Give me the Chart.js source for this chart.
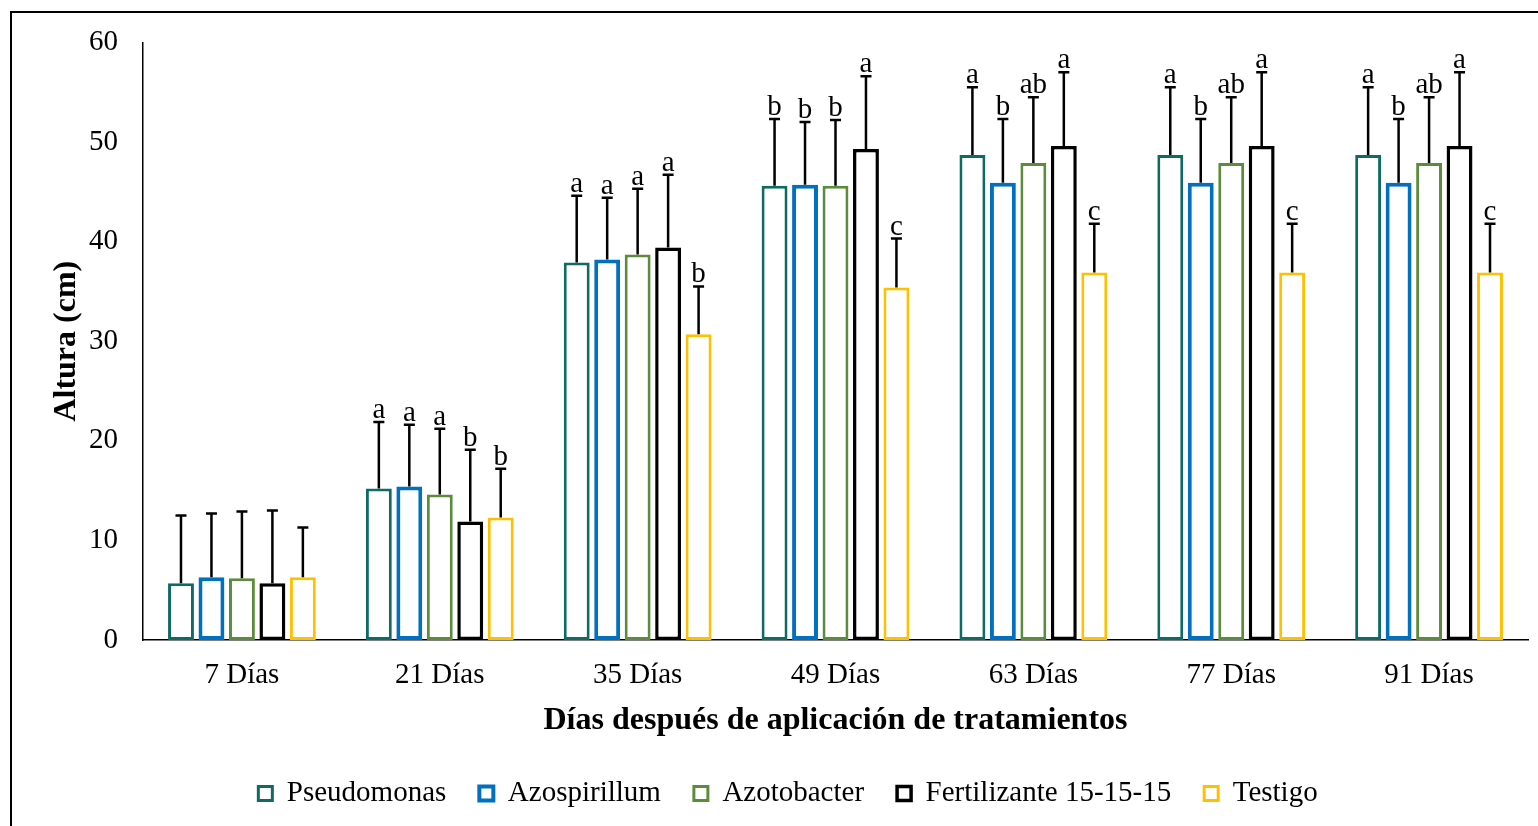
<!DOCTYPE html>
<html>
<head>
<meta charset="utf-8">
<script src="https://cdn.jsdelivr.net/npm/chart.js@4.4.1/dist/chart.umd.min.js"></script>
<style>
  html, body { margin: 0; padding: 0; background: #fff; }
  #wrap { width: 1538px; height: 826px; position: relative; }
</style>
</head>
<body>
<div id="wrap"><canvas id="c" width="1538" height="826"></canvas></div>
<script>
// Plant height (cm) by treatment and sampling day
const categories = ['7 Días', '21 Días', '35 Días', '49 Días', '63 Días', '77 Días', '91 Días'];
const seriesNames = ['Pseudomonas', 'Azospirillum', 'Azotobacter', 'Fertilizante 15-15-15', 'Testigo'];

const pseudomonas   = [5.7, 15.2, 37.9, 45.6, 48.7, 48.7, 48.7];
const azospirillum  = [6.3, 15.4, 38.2, 45.7, 45.9, 45.9, 45.9];
const azotobacter   = [6.2, 14.6, 38.7, 45.6, 47.9, 47.9, 47.9];
const fertilizante  = [5.7, 11.9, 39.4, 49.3, 49.6, 49.6, 49.6];
const testigo       = [6.3, 12.3, 30.7, 35.4, 36.9, 36.9, 36.9];

// Standard deviations (upper error bars)
const sdPseudomonas  = [6.8, 6.7, 6.7, 6.7, 6.8, 6.8, 6.8];
const sdAzospirillum = [6.4, 6.2, 6.2, 6.3, 6.4, 6.4, 6.4];
const sdAzotobacter  = [6.7, 6.6, 6.6, 6.6, 6.6, 6.6, 6.6];
const sdFertilizante = [7.3, 7.2, 7.3, 7.3, 7.4, 7.4, 7.4];
const sdTestigo      = [5.0, 4.9, 4.8, 4.9, 4.9, 4.9, 4.9];

// Mean separation letters
const lettersPseudomonas  = ['', 'a', 'a', 'b', 'a', 'a', 'a'];
const lettersAzospirillum = ['', 'a', 'a', 'b', 'b', 'b', 'b'];
const lettersAzotobacter  = ['', 'a', 'a', 'b', 'ab', 'ab', 'ab'];
const lettersFertilizante = ['', 'b', 'a', 'a', 'a', 'a', 'a'];
const lettersTestigo      = ['', 'b', 'b', 'c', 'c', 'c', 'c'];

const yTicks = [0, 10, 20, 30, 40, 50, 60];

const colors = ['#0E6B63', '#0070C0', '#5B8C3C', '#000000', '#FFC000'];
const borderWidths = [3, 4, 3, 3.5, 3];
const values = [pseudomonas, azospirillum, azotobacter, fertilizante, testigo];
const sds = [sdPseudomonas, sdAzospirillum, sdAzotobacter, sdFertilizante, sdTestigo];
const letters = [lettersPseudomonas, lettersAzospirillum, lettersAzotobacter, lettersFertilizante, lettersTestigo];

const SERIF = "'Liberation Serif', 'Times New Roman', serif";

const datasets = seriesNames.map((name, i) => ({
  label: name,
  data: values[i],
  sd: sds[i],
  letters: letters[i],
  backgroundColor: '#ffffff',
  borderColor: colors[i],
  borderWidth: borderWidths[i],
  borderSkipped: false,
  categoryPercentage: 0.77,
  barPercentage: 0.85
}));

// White page with a thin outer frame
const framePlugin = {
  id: 'frame',
  beforeDraw(chart) {
    const ctx = chart.ctx;
    ctx.save();
    ctx.fillStyle = '#fff';
    ctx.fillRect(0, 0, chart.width, chart.height);
    ctx.strokeStyle = '#000';
    ctx.lineWidth = 2;
    ctx.strokeRect(11, 12, chart.width + 20, chart.height + 20);
    ctx.restore();
  }
};

// Upper error bars and significance letters
const errorBarPlugin = {
  id: 'errorBars',
  afterDatasetsDraw(chart) {
    const ctx = chart.ctx;
    const y = chart.scales.y;
    ctx.save();
    chart.data.datasets.forEach((ds, di) => {
      const meta = chart.getDatasetMeta(di);
      meta.data.forEach((bar, i) => {
        const top = y.getPixelForValue(ds.data[i] + ds.sd[i]);
        const base = bar.y;
        ctx.strokeStyle = '#000';
        ctx.lineWidth = 2.5;
        ctx.beginPath();
        ctx.moveTo(bar.x, base);
        ctx.lineTo(bar.x, top);
        ctx.moveTo(bar.x - 5.5, top);
        ctx.lineTo(bar.x + 5.5, top);
        ctx.stroke();
        const txt = ds.letters[i];
        if (txt) {
          ctx.fillStyle = '#000';
          ctx.font = '29px ' + SERIF;
          ctx.textAlign = 'center';
          ctx.textBaseline = 'alphabetic';
          ctx.fillText(txt, bar.x, top - 4);
        }
      });
    });
    ctx.restore();
  }
};

new Chart(document.getElementById('c'), {
  type: 'bar',
  data: { labels: categories, datasets },
  plugins: [framePlugin, errorBarPlugin],
  options: {
    responsive: false,
    animation: false,
    devicePixelRatio: 1,
    layout: { padding: { left: 48, right: 10, top: 42, bottom: 8 } },
    plugins: {
      tooltip: { enabled: false },
      legend: {
        position: 'bottom',
        labels: {
          color: '#000',
          font: { family: SERIF, size: 29 },
          boxWidth: 14,
          boxHeight: 14,
          padding: 33
        }
      }
    },
    scales: {
      x: {
        grid: { display: false, drawTicks: false },
        border: { display: true, color: '#000', width: 1.5 },
        ticks: { color: '#000', font: { family: SERIF, size: 29 }, padding: 18, maxRotation: 0 },
        title: {
          display: true,
          text: 'Días después de aplicación de tratamientos',
          color: '#000',
          font: { family: SERIF, size: 32, weight: 'bold' },
          padding: { top: 4, bottom: 6 }
        },
        afterFit(scale) { scale.height = 106; }
      },
      y: {
        min: 0,
        max: 60,
        afterBuildTicks(scale) { scale.ticks = yTicks.map(v => ({ value: v })); },
        grid: { display: false, drawTicks: false },
        border: { display: true, color: '#000', width: 1.5 },
        ticks: { color: '#000', font: { family: SERIF, size: 29 }, padding: 25 },
        title: {
          display: true,
          text: 'Altura (cm)',
          color: '#000',
          font: { family: SERIF, size: 32, weight: 'bold' },
          padding: { top: 0, bottom: 0 }
        },
        afterFit(scale) { scale.width = 95; }
      }
    }
  }
});
</script>
</body>
</html>
